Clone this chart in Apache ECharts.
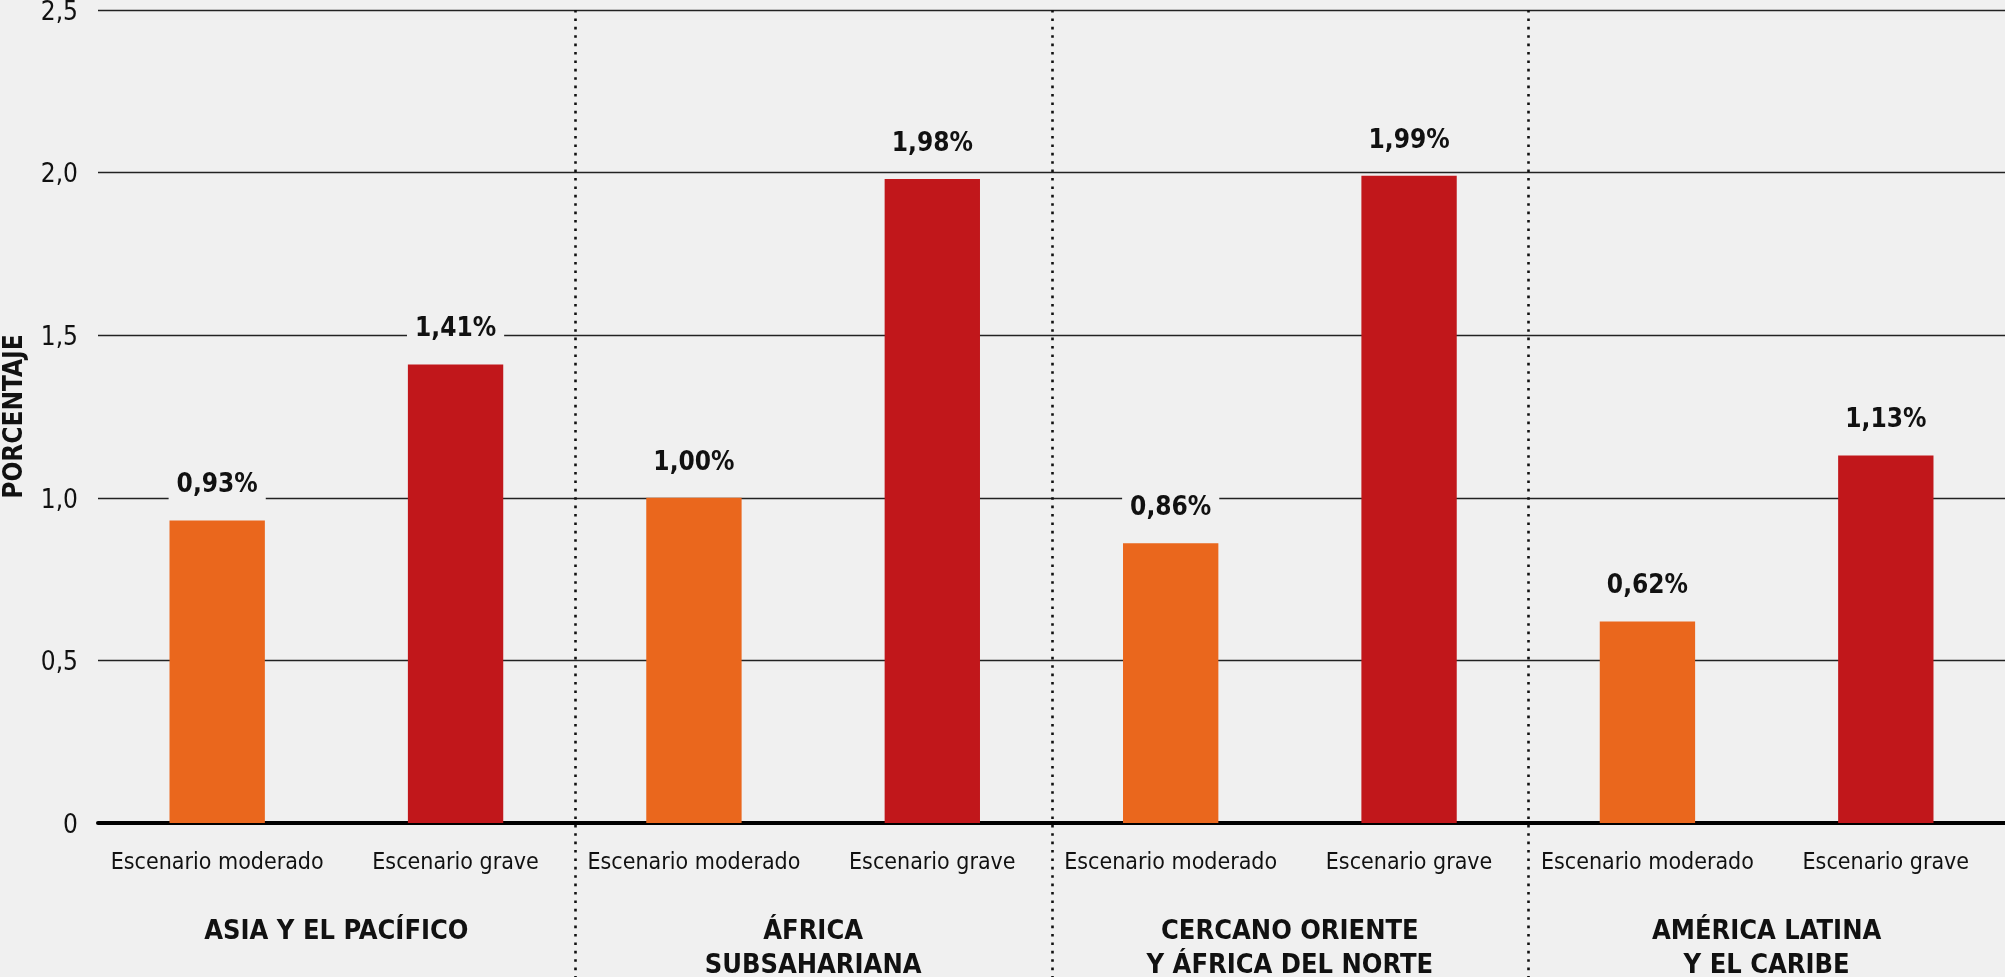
<!DOCTYPE html>
<html>
<head>
<meta charset="utf-8">
<script src="https://cdn.jsdelivr.net/npm/echarts@6/dist/echarts.min.js"></script>
<style>
html,body{margin:0;padding:0;background:#f0f0f0;}
#chart{width:2005px;height:977px;}
</style>
</head>
<body>
<div id="chart"></div>
<script>
// ---- data ----
const categories = ['Escenario moderado','Escenario grave','Escenario moderado','Escenario grave','Escenario moderado','Escenario grave','Escenario moderado','Escenario grave'];
const groups = ['ASIA Y EL PACÍFICO','ÁFRICA\nSUBSAHARIANA','CERCANO ORIENTE\nY ÁFRICA DEL NORTE','AMÉRICA LATINA\nY EL CARIBE'];
const values = [0.93, 1.41, 1.00, 1.98, 0.86, 1.99, 0.62, 1.13];
const yTickLabels = ['0','0,5','1,0','1,5','2,0','2,5'];
const yTitle = 'PORCENTAJE';

const ORANGE = '#EA671D';
const RED = '#C1171B';
const FONT = '"Liberation Sans Narrow","DejaVu Sans Condensed","Roboto Condensed","Liberation Sans",sans-serif';

const chart = echarts.init(document.getElementById('chart'));
const gridTop = 10, gridBottom = 154, gridLeft = 98, gridRight = 0;

const option = {
  backgroundColor: '#f0f0f0',
  animation: false,
  textStyle: {fontFamily: FONT},
  grid: {left: gridLeft, right: gridRight, top: gridTop, bottom: gridBottom, containLabel: false, outerBoundsMode: 'none'},
  xAxis: [{
    type: 'category',
    data: categories,
    position: 'bottom',
    axisLine: {show: true, lineStyle: {color: '#000', width: 4}},
    axisTick: {show: false},
    axisLabel: {color: '#111', fontSize: 23, fontFamily: FONT, margin: 29, interval: 0}
  }, {
    type: 'category',
    data: groups,
    position: 'bottom',
    offset: 84,
    axisLine: {show: false},
    axisTick: {show: false},
    axisLabel: {color: '#111', fontSize: 27, fontWeight: 'bold', fontFamily: FONT, lineHeight: 34, interval: 0, verticalAlign: 'top'}
  }],
  yAxis: {
    type: 'value',
    min: 0, max: 2.5, interval: 0.5,
    name: yTitle,
    nameLocation: 'middle',
    nameGap: 70,
    nameRotate: 90,
    nameTextStyle: {color: '#111', fontSize: 26, fontWeight: 'bold', fontFamily: FONT},
    axisLine: {show: false},
    axisTick: {show: false},
    axisLabel: {color: '#111', fontSize: 26, fontFamily: FONT, margin: 20,
      formatter: (v) => '{t|' + yTickLabels[Math.round(v / 0.5)] + '}',
      rich: {t: {color: '#111', fontSize: 26, fontFamily: FONT, padding: [6, 0, 0, 0]}}},
    splitLine: {show: true, lineStyle: {color: '#222', width: 1.3}}
  },
  series: [{
    type: 'bar',
    data: values.map((v, i) => ({value: v, itemStyle: {color: i % 2 === 0 ? ORANGE : RED}})),
    barWidth: '40%',
    xAxisIndex: 0,
    label: {
      show: true,
      position: 'top',
      distance: 20,
      color: '#111',
      fontSize: 26,
      fontWeight: 'bold',
      fontFamily: FONT,
      backgroundColor: '#f0f0f0',
      padding: [2, 8],
      formatter: (p) => p.value.toFixed(2).replace('.', ',') + '%'
    },
    z: 3
  }]
};
chart.setOption(option);

// dotted group dividers, placed at category band boundaries via the axis scale
function addDividers() {
  const lines = [];
  for (let g = 1; g < groups.length; g++) {
    const a = chart.convertToPixel({xAxisIndex: 0}, 2 * g - 1);
    const b = chart.convertToPixel({xAxisIndex: 0}, 2 * g);
    const x = Math.round((a + b) / 2) + 0.5;
    lines.push({
      type: 'line',
      shape: {x1: x, y1: gridTop, x2: x, y2: 977},
      style: {stroke: '#111', lineWidth: 2.6, lineDash: [2.6, 5.8]},
      z: 10
    });
  }
  chart.setOption({graphic: lines});
}
addDividers();
</script>
</body>
</html>
